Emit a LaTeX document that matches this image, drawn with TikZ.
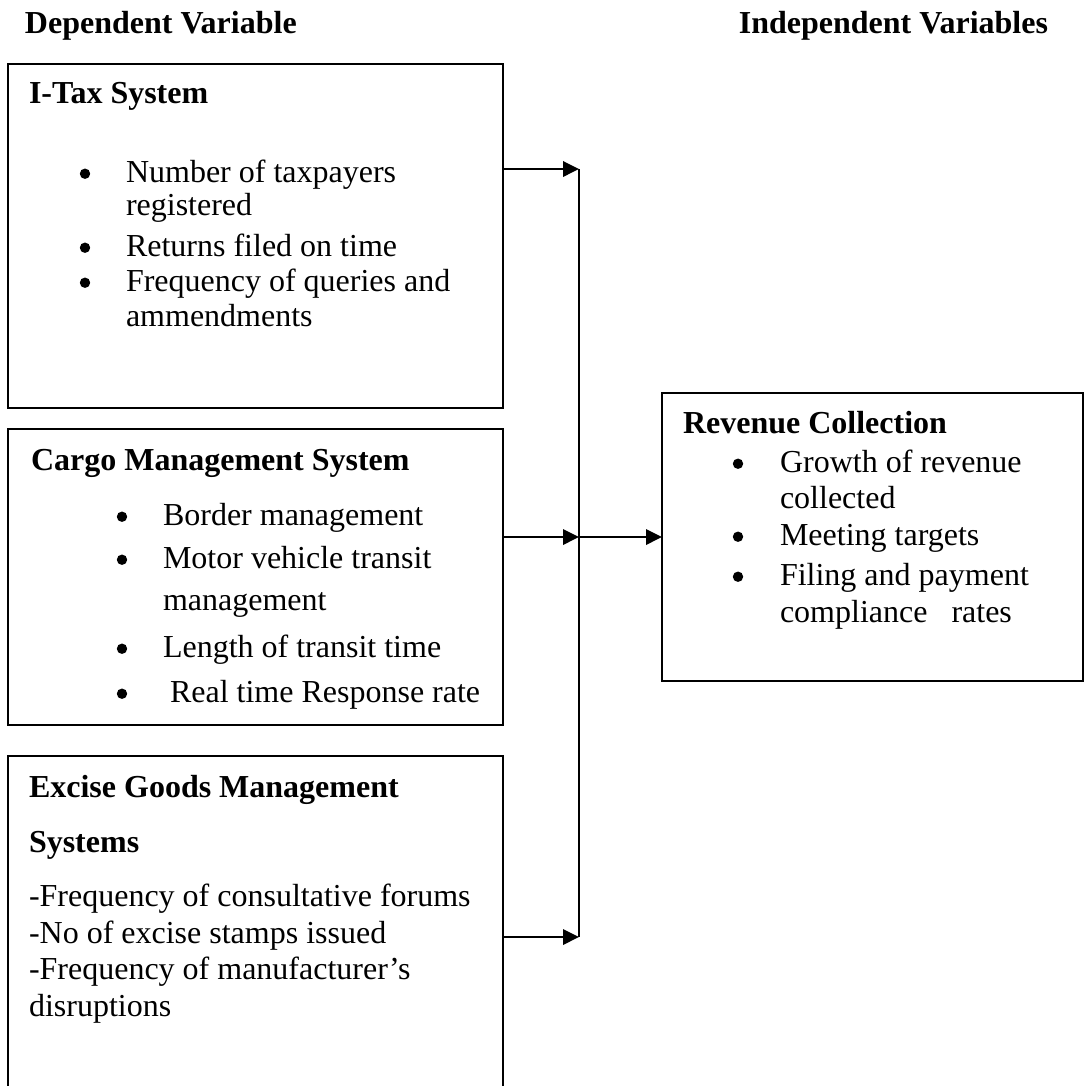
\documentclass[tikz,border=0pt]{standalone}
\usepackage{fontspec}
\setmainfont{Liberation Serif}
\usetikzlibrary{arrows.meta}
\tikzset{
  box/.style={draw=black, line width=0.55pt, rectangle, inner sep=0pt, outer sep=0pt, anchor=north west},
  txt/.style={anchor=base west, inner sep=0pt, outer sep=0pt, font=\fontsize{12pt}{13.8pt}\selectfont},
  hd/.style={txt, font=\fontsize{12pt}{13.8pt}\selectfont\bfseries},
  bul/.style={circle, fill=black, inner sep=0pt, outer sep=0pt, minimum size=3.9pt, yshift=3.1pt},
  link/.style={line width=0.75pt},
  arr/.style={line width=0.75pt, -{Triangle[length=6pt, width=5.8pt]}}
}
\begin{document}
\begin{tikzpicture}[x=0.375pt, y=-0.375pt]
\clip (0,0) rectangle (1084,1086);
\useasboundingbox (0,0) rectangle (1084,1086);

% headers
\node[hd] (hdep) at (25,33) {Dependent Variable};
\node[hd, anchor=base east] (hind) at (1048,33) {Independent Variables};

% boxes
\node[box, minimum width=185.625pt, minimum height=129pt] (itax) at (8,64) {};
\node[box, minimum width=185.625pt, minimum height=111pt] (cargo) at (8,429) {};
\node[box, minimum width=185.625pt, minimum height=135pt] (excise) at (8,756) {};
\node[box, minimum width=157.875pt, minimum height=108pt] (rev) at (662,393) {};

% I-Tax text
\node[hd] (t1) at (29,103) {I-Tax System};
\node[bul] (b11) at (85,182) {};
\node[txt] (t11) at (126,182) {Number of taxpayers};
\node[txt] (t12) at (126,215) {registered};
\node[bul] (b13) at (85,256) {};
\node[txt] (t13) at (126,256) {Returns filed on time};
\node[bul] (b14) at (85,291) {};
\node[txt] (t14) at (126,291) {Frequency of queries and};
\node[txt] (t15) at (126,326) {ammendments};

% Cargo text
\node[hd] (t2) at (31,470) {Cargo Management System};
\node[bul] (b21) at (122,525) {};
\node[txt] (t21) at (163,525) {Border management};
\node[bul] (b22) at (122,568) {};
\node[txt] (t22) at (163,568) {Motor vehicle transit};
\node[txt] (t23) at (163,610) {management};
\node[bul] (b24) at (122,657) {};
\node[txt] (t24) at (163,657) {Length of transit time};
\node[bul] (b25) at (122,702) {};
\node[txt] (t25) at (170,702) {Real time Response rate};

% Excise text
\node[hd] (t3) at (29,797) {Excise Goods Management};
\node[hd] (t3b) at (29,852) {Systems};
\node[txt] (t31) at (29,906) {-Frequency of consultative forums};
\node[txt] (t32) at (29,943) {-No of excise stamps issued};
\node[txt] (t33) at (29,979) {-Frequency of manufacturer’s};
\node[txt] (t34) at (29,1016) {disruptions};

% Revenue text
\node[hd] (t4) at (683,433) {Revenue Collection};
\node[bul] (b41) at (738,472) {};
\node[txt] (t41) at (780,472) {Growth of revenue};
\node[txt] (t42) at (780,508) {collected};
\node[bul] (b43) at (738,545) {};
\node[txt] (t43) at (780,545) {Meeting targets};
\node[bul] (b44) at (738,585) {};
\node[txt] (t44) at (780,585) {Filing and payment};
\node[txt] (t45) at (780,622) {compliance\ \ \ rates};

% connectors
\coordinate (j1) at (579,169);
\coordinate (j2) at (579,537);
\coordinate (j3) at (579,937);
\draw[link] (j1) -- (j3);
\draw[arr] (itax.east |- j1) -- (j1);
\draw[arr] (cargo.east |- j2) -- (j2);
\draw[arr] (excise.east |- j3) -- (j3);
\draw[arr] (j2) -- (rev.west |- j2);
\end{tikzpicture}
\end{document}
